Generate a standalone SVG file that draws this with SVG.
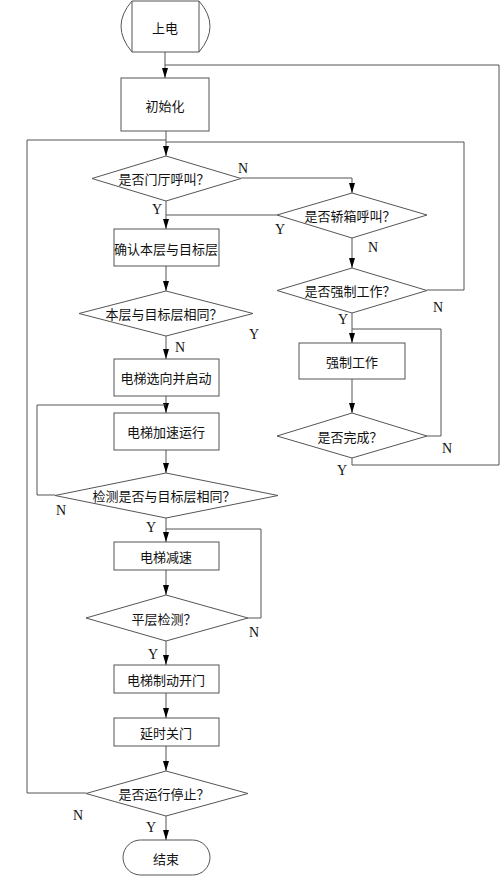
<svg xmlns="http://www.w3.org/2000/svg" width="500" height="876" viewBox="0 0 500 876">
<style>
.s{fill:#fff;stroke:#555;stroke-width:1}
.c{fill:none;stroke:#555;stroke-width:1}
.t{font-family:"Noto Sans CJK SC",sans-serif;font-size:13px;fill:#111;text-anchor:middle;dominant-baseline:central}
.l{font-family:"Liberation Serif",serif;font-size:14px;fill:#111;text-anchor:middle}
</style>
<defs>
<marker id="a" markerUnits="userSpaceOnUse" markerWidth="10" markerHeight="6" refX="10" refY="3" orient="auto">
<path d="M0,0 L10,3 L0,6 Z" fill="#000"/>
</marker>
</defs>
<rect width="500" height="876" fill="#fff"/>
<g id="connectors">
<path class="c" d="M165,52 V78" marker-end="url(#a)"/>
<path class="c" d="M352,458 V465 H499 V65 H165"/>
<path class="c" d="M166,131 V156" marker-end="url(#a)"/>
<path class="c" d="M86,793 H27 V140 H166"/>
<path class="c" d="M427,290 H464 V142 H166"/>
<path class="c" d="M241,178 H352 V193" marker-end="url(#a)"/>
<path class="c" d="M166,201 V229" marker-end="url(#a)"/>
<path class="c" d="M277,215 H166"/>
<path class="c" d="M352,238 V268" marker-end="url(#a)"/>
<path class="c" d="M166,266 V291" marker-end="url(#a)"/>
<path class="c" d="M166,336 V359" marker-end="url(#a)"/>
<path class="c" d="M166,396 V413" marker-end="url(#a)"/>
<path class="c" d="M55,495 H37 V405 H166"/>
<path class="c" d="M166,450 V473" marker-end="url(#a)"/>
<path class="c" d="M166,518 V542" marker-end="url(#a)"/>
<path class="c" d="M248,618 H261 V529 H166"/>
<path class="c" d="M166,570 V595" marker-end="url(#a)"/>
<path class="c" d="M166,641 V665" marker-end="url(#a)"/>
<path class="c" d="M166,693 V718" marker-end="url(#a)"/>
<path class="c" d="M166,746 V771" marker-end="url(#a)"/>
<path class="c" d="M166,816 V840" marker-end="url(#a)"/>
<path class="c" d="M352,313 V343" marker-end="url(#a)"/>
<path class="c" d="M427,436 H441 V329 H352"/>
<path class="c" d="M352,379 V413" marker-end="url(#a)"/>
</g>
<g id="start">
<path class="s" d="M132,1 H199 Q221,26 199,52 H132 Q110,26 132,1 Z"/>
<path class="c" d="M132,1 V52 M199,1 V52"/>
<text class="t" x="165" y="27">上电</text>
</g>
<g id="init">
<rect class="s" x="121" y="78" width="88" height="53"/>
<text class="t" x="165" y="105">初始化</text>
</g>
<g id="d_hall">
<polygon class="s" points="166,156 241,178.5 166,201 92,178.5"/>
<text class="t" x="164" y="178.5">是否门厅呼叫？</text>
</g>
<g id="d_car">
<polygon class="s" points="352,193 427,215 352,238 277,215"/>
<text class="t" x="350" y="215">是否轿箱呼叫？</text>
</g>
<g id="confirm">
<rect class="s" x="114" y="229" width="105" height="37"/>
<text class="t" x="166" y="248">确认本层与目标层</text>
</g>
<g id="d_same">
<polygon class="s" points="166,291 253,313.5 166,336 79,313.5"/>
<text class="t" x="164" y="313.5">本层与目标层相同？</text>
</g>
<g id="d_force">
<polygon class="s" points="352,268 427,290.5 352,313 277,290.5"/>
<text class="t" x="350" y="290.5">是否强制工作？</text>
</g>
<g id="force">
<rect class="s" x="299" y="343" width="106" height="36"/>
<text class="t" x="352" y="361">强制工作</text>
</g>
<g id="d_done">
<polygon class="s" points="352,413 427,436 352,458 277,436"/>
<text class="t" x="350" y="436">是否完成？</text>
</g>
<g id="select">
<rect class="s" x="114" y="359" width="105" height="37"/>
<text class="t" x="166" y="377">电梯选向并启动</text>
</g>
<g id="accel">
<rect class="s" x="114" y="413" width="105" height="37"/>
<text class="t" x="166" y="431">电梯加速运行</text>
</g>
<g id="d_detect">
<polygon class="s" points="166,473 278,495.5 166,518 55,495.5"/>
<text class="t" x="164" y="495.5">检测是否与目标层相同？</text>
</g>
<g id="decel">
<rect class="s" x="114" y="542" width="105" height="28"/>
<text class="t" x="166" y="556">电梯减速</text>
</g>
<g id="d_level">
<polygon class="s" points="166,595 248,618 166,641 86,618"/>
<text class="t" x="164" y="618">平层检测？</text>
</g>
<g id="brake">
<rect class="s" x="114" y="665" width="105" height="28"/>
<text class="t" x="166" y="679">电梯制动开门</text>
</g>
<g id="delay">
<rect class="s" x="114" y="718" width="105" height="28"/>
<text class="t" x="166" y="732">延时关门</text>
</g>
<g id="d_stop">
<polygon class="s" points="166,771 248,793.5 166,816 86,793.5"/>
<text class="t" x="164" y="793.5">是否运行停止？</text>
</g>
<g id="end">
<rect class="s" x="123" y="840" width="87" height="35" rx="17.5"/>
<text class="t" x="166" y="858">结束</text>
</g>
<g id="labels">
<text class="l" x="243" y="173">N</text>
<text class="l" x="157" y="214">Y</text>
<text class="l" x="280" y="234">Y</text>
<text class="l" x="254" y="339">Y</text>
<text class="l" x="180" y="352">N</text>
<text class="l" x="373" y="252">N</text>
<text class="l" x="438" y="312">N</text>
<text class="l" x="343" y="324">Y</text>
<text class="l" x="447" y="453">N</text>
<text class="l" x="342" y="475">Y</text>
<text class="l" x="61" y="515">N</text>
<text class="l" x="151" y="532">Y</text>
<text class="l" x="254" y="637">N</text>
<text class="l" x="153" y="659">Y</text>
<text class="l" x="78" y="820">N</text>
<text class="l" x="151" y="832">Y</text>
</g>
</svg>
